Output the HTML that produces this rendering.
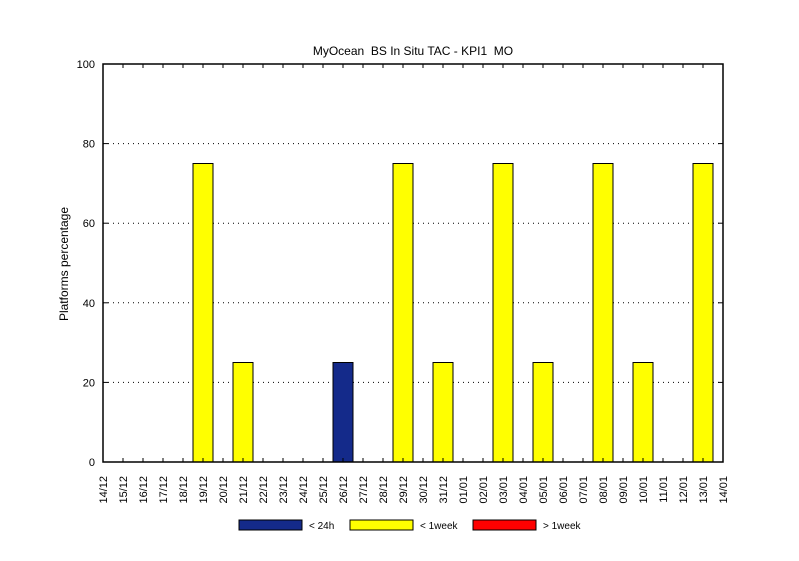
<!DOCTYPE html>
<html><head><meta charset="utf-8"><style>
body{margin:0;background:#fff}
svg text{font-family:"Liberation Sans",sans-serif;font-size:11px;fill:#000}
</style></head><body>
<svg id="c" width="799" height="556" xmlns="http://www.w3.org/2000/svg">
<text x="413" y="55" text-anchor="middle" style="font-size:12px" xml:space="preserve">MyOcean  BS In Situ TAC - KPI1  MO</text>
<text transform="translate(68,264) rotate(-90)" text-anchor="middle" style="font-size:12px">Platforms percentage</text>
<g id="grid"></g><g id="bars"></g><g id="axes"></g><g id="legend"></g>
</svg>
<script>
const categories=["14/12","15/12","16/12","17/12","18/12","19/12","20/12","21/12","22/12","23/12","24/12","25/12","26/12","27/12","28/12","29/12","30/12","31/12","01/01","02/01","03/01","04/01","05/01","06/01","07/01","08/01","09/01","10/01","11/01","12/01","13/01","14/01"];
const under24h=[0,0,0,0,0,0,0,0,0,0,0,0,25,0,0,0,0,0,0,0,0,0,0,0,0,0,0,0,0,0,0,0];
const under1week=[0,0,0,0,0,75,0,25,0,0,0,0,0,0,0,75,0,25,0,0,75,0,25,0,0,75,0,25,0,0,75,0];
const over1week=[0,0,0,0,0,0,0,0,0,0,0,0,0,0,0,0,0,0,0,0,0,0,0,0,0,0,0,0,0,0,0,0];
const yTicks=[0,20,40,60,80,100];
const legendLabels=["< 24h","< 1week","> 1week"];
const colors=["#142a8a","#ffff00","#ff0000"];
const NS="http://www.w3.org/2000/svg";
const L=103,R=723,T=64,B=462;
const x=i=>L+i*(R-L)/(categories.length-1);
const y=v=>B-v*(B-T)/100;
function mk(tag,attrs,parent){const e=document.createElementNS(NS,tag);for(const k in attrs)e.setAttribute(k,attrs[k]);document.getElementById(parent).appendChild(e);return e;}
yTicks.forEach(v=>{
 if(v>0&&v<100){const g=mk('line',{x1:L,x2:R,y1:y(v),y2:y(v),stroke:'#000','stroke-dasharray':'1,4'},'grid');
 
 }
 const t=mk('text',{x:L-8,y:y(v)+4,'text-anchor':'end'},'axes');t.textContent=v;
 
 
 mk('line',{x1:L,x2:L+5,y1:y(v),y2:y(v),stroke:'#000'},'axes');
 mk('line',{x1:R,x2:R-5,y1:y(v),y2:y(v),stroke:'#000'},'axes');
});
const series=[under24h,under1week,over1week];
const bw=(R-L)/(categories.length-1);
categories.forEach((c,i)=>{
 let base=0;
 series.forEach((s,k)=>{if(s[i]>0){
  const r=mk('rect',{x:x(i)-bw/2,y:y(base+s[i]),width:bw,height:y(base)-y(base+s[i]),fill:colors[k],stroke:'#000','stroke-width':1},'bars');
  
  
  base+=s[i];}});
 mk('line',{x1:x(i),x2:x(i),y1:B,y2:B-4,stroke:'#000'},'axes');
 mk('line',{x1:x(i),x2:x(i),y1:T,y2:T+4,stroke:'#000'},'axes');
 const t=mk('text',{transform:`translate(${x(i)+4},${B+14}) rotate(-90)`,'text-anchor':'end'},'axes');t.textContent=c;
 
 
});
const f=mk('rect',{x:L,y:T,width:R-L,height:B-T,fill:'none',stroke:'#000','stroke-width':1.5},'axes');


const lx=[239,350,473];
legendLabels.forEach((l,k)=>{
 const r=mk('rect',{x:lx[k],y:520,width:63,height:10,fill:colors[k],stroke:'#000'},'legend');
 
 
 const t=mk('text',{x:lx[k]+70,y:529,style:'font-size:10px'},'legend');t.textContent=l;
 
 
});
</script>
</body></html>
